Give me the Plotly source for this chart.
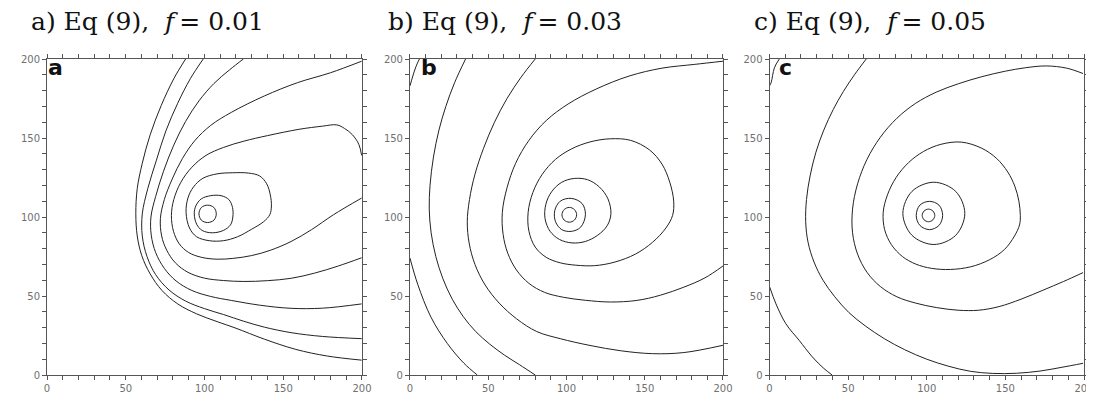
import plotly.graph_objects as go

# ---------------- data: contour paths (x, y) ----------------
# Panel a  (f = 0.01)
a1 = [(107.5,102),(106,106),(102,107.5),(98,106),(96.5,102),(98,98),(102,96.5),(106,98),(107.5,102)]
a2 = [(93.5,102),(94.5,107),(98,111.5),(104,113.5),(110.5,113.5),(115.5,111),(117.8,106),(118,100),(116.5,95),
      (112,91.5),(105,90),(98.5,91.5),(95,95.5),(93.5,102)]
a3 = [(88.3,103),(89.5,112),(93,119),(99,124.5),(108,127.3),(118,128),(128,127.8),(135,126),(139.5,121),
      (141.8,114),(142.5,107),(141.5,101.5),(137.5,97),(130,92.3),(121,87.5),(112,85),(103,85),(95,87.5),
      (90.5,93),(88.3,103)]
a4 = [(199.8,139),(198,146),(194,152),(189,156),(184,158.3),(175,157.5),(160,155.5),(140,151.5),(125,148),
      (112,144),(101,139),(92,131.5),(85,122),(80.5,111),(79,101),(80.3,91),(84,83),(90,77.5),(98,74.5),
      (108,73.3),(118,73.8),(130,75.6),(142,79),(155,84.5),(168,92),(182,101.5),(199.8,112)]
a5 = [(199.8,198.6),(180,191.3),(159,185),(138,176.6),(117,166.2),(104,158),(94,148.5),(86,137),(79.5,124),
      (74.5,111),(72,99),(72.8,88),(76,79),(81.5,71),(89.5,65),(100,61.3),(112,59.8),(125,59.2),(140,59.7),
      (155,61.2),(170,64.5),(185,69),(199.8,74.2)]
a6 = [(124.7,200),(116,193.2),(106,184.5),(96.5,173.5),(88,160.5),(80.5,145.5),(74,129),(69,113),(66,100),
      (66.2,88.5),(69,77.5),(74.5,67.5),(82,59.5),(92,53.5),(104,49.7),(117,47.2),(135,44.2),(155,42.2),
      (175,42.3),(199.8,45)]
a7 = [(99.2,200),(91,187.5),(83,172),(75.5,154.5),(69.5,136),(64,118),(60.5,102),(60.5,88),(63.5,75),
      (69,63.5),(77.5,53.8),(88,46.8),(100,42),(112,38.3),(125,34),(138,30.3),(155,26.8),(175,24.4),(199.8,23)]
a8 = [(88,200),(80.5,187.5),(72.5,170.5),(65.5,152),(60.5,134),(57.3,118),(56.4,102),(57.3,88),(60.2,75.5),
      (65.5,64),(73,53.5),(83,45),(95,38.7),(108,33.8),(120,29.6),(138,22.7),(158,16.2),(178,12),(199.8,9.4)]

# Panel b  (f = 0.03)
b1 = [(106.5,101.4),(105.1,104.7),(101.8,106.1),(98.5,104.7),(97.1,101.4),(98.5,98.1),(101.8,96.7),
      (105.1,98.1),(106.5,101.4)]
b2 = [(112.1,101.4),(110,108.5),(103,111.8),(96,110),(92.5,104),(93,97),(97,92),(103,90.9),(109,93.5),(112.1,101.4)]
b3 = [(128.4,102),(126.5,111.5),(121,119),(113.5,123.6),(105,124.4),(97,122),(90.5,116),(86.8,108),(86.3,99),
      (89.5,91),(95.5,85.8),(103.5,83.6),(112,84.5),(120,88.5),(126,94.5),(128.4,102)]
b4 = [(168.5,110),(166,122),(161,133.5),(153,142.5),(141,148.5),(128,149.5),(115,147.5),(103,143),(93,136.5),
      (84.5,127),(78.5,115.5),(75.5,103),(76,91),(80,81),(87,74.5),(96,71),(106,69.5),(118,69.2),(131,71.5),
      (144,76.5),(155,84),(163.5,93),(167.8,101),(168.5,110)]
b5 = [(200,198.6),(182,196.6),(161,194.2),(140,189.2),(119,181),(101,171.5),(87,161),(76,148.5),(67.5,134),
      (62,118.5),(59,103),(59.5,89),(62.5,77),(68,66.5),(76,58),(86,52.3),(98,49.2),(112,47.3),(128,46.2),
      (145,47.2),(160,50.5),(175,55.6),(188.5,61.5),(200,69)]
b6 = [(80,200),(71,188.5),(62,175),(54,160),(47,143.5),(41.5,127),(38,111),(36.6,97),(37.8,83.5),(41.5,70),
      (48,57),(57,45.5),(68.2,35.5),(81,27.5),(96,23),(115,18.7),(135,15.3),(155,13.5),(175,14.2),(200,18.8)]
b7 = [(35.5,200),(28.5,185),(22.9,170),(18.5,155),(15,138),(12.8,120),(12.3,105),(13.5,90),(16.5,75),(21,61),
      (27,48),(34,37),(42,27.5),(51,19.5),(60.5,12.5),(70,6.5),(80,0)]
b8 = [(0,74),(4.9,57.5),(13.4,36.6),(23.9,19.9),(34.5,7.4),(43,0)]
b9 = [(6,200),(3.9,195.4),(1.8,189.2),(0,183)]

# Panel c  (f = 0.05)
c1 = [(105.1,101),(103.9,103.8),(101.1,105),(98.3,103.8),(97.1,101),(98.3,98.2),(101.1,97),(103.9,98.2),(105.1,101)]
c2 = [(110.1,101),(107.8,107.5),(101.7,109.9),(95.6,107.5),(93.3,101),(95.6,94.7),(101.7,92),(107.8,94.7),(110.1,101)]
c3 = [(124.2,102.3),(118.4,116.2),(104.5,122),(90.6,116.2),(84.8,102.3),(90.6,88.4),(104.5,82.6),(118.4,88.4),
      (124.2,102.3)]
c4 = [(159.5,101),(158.6,110),(156,119.5),(151.5,128.5),(144.5,137),(135,143.5),(122,147.4),(109,146),(98,141.5),
      (88.5,134.5),(80.5,125),(75,114),(72.3,103),(73.2,92),(77.5,82.5),(84.5,75),(93,70.2),(103,67.5),(115,66.8),
      (128,68.5),(140,73),(149.5,79.5),(155.8,88),(159,95),(159.5,101)]
c5 = [(199.4,190.8),(189,194.2),(176,195.6),(163,194.5),(150,192.3),(135,188.8),(120,184.3),(106,179),(93,172),
      (81,162.5),(70.5,150.5),(62,136.5),(56,121),(52.8,105),(52.8,90),(56,76.5),(62,65),(70.5,56),(81,49.5),
      (93,45.5),(106,42.7),(120,41),(133,41),(146,43.3),(160,48),(174,53.7),(187,59.2),(199.4,64.8)]
c6 = [(61.5,200),(54,190),(47,179.5),(40.5,168),(34.5,155),(29.5,141),(25.8,126),(23.5,111),(23,97),(24.5,84),
      (28.3,71.5),(34,60),(41.5,49.5),(50.5,39.5),(61,31),(73,23),(86,16),(100,10),(114,5.5),(128,2.3),(142,1),
      (157,1.1),(172,2.5),(186,4.9),(199.4,7.4)]
c7 = [(0,56),(4.1,45),(10.4,32.4),(18.8,22),(27.2,11.5),(34.5,4.2),(39.8,0)]
c8 = [(6.2,200),(3.1,194.4),(1,185),(0,183)]

panel_contours = [[a1, a2, a3, a4, a5, a6, a7, a8],
                  [b1, b2, b3, b4, b5, b6, b7, b8, b9],
                  [c1, c2, c3, c4, c5, c6, c7, c8]]
titles = ["a) Eq (9),\u00a0 <i>f</i>\u2009= 0.01", "b) Eq (9),\u00a0 <i>f</i>\u2009= 0.03",
          "c) Eq (9),\u00a0 <i>f</i>\u2009= 0.05"]
letters = ["a", "b", "c"]
tick_vals = [0, 50, 100, 150, 200]
tick_text = ["0", "50", "100", "150", "200"]

# ---------------- figure ----------------
W, H = 1094, 394
ML, MR, MT, MB = 39, 8, 51, 24
PW = W - ML - MR
PH = H - MT - MB
domains = [[0, 318 / PW], [(405.5 - ML) / PW, (721.5 - ML) / PW], [(768.5 - ML) / PW, 1.0]]
title_x = [-18 / 318, -24 / 316, -18 / 317.5]
letter_x = [-1 / 318, 9 / 316, 8 / 317.5]

fig = go.Figure()
for i, contours in enumerate(panel_contours):
    xa = "x" if i == 0 else f"x{i+1}"
    ya = "y" if i == 0 else f"y{i+1}"
    for path in contours:
        fig.add_trace(go.Scatter(
            x=[p[0] for p in path], y=[p[1] for p in path], xaxis=xa, yaxis=ya,
            mode="lines", line=dict(color="#222222", width=1, shape="spline", smoothing=1.0),
            showlegend=False, hoverinfo="skip"))

axis_common = dict(range=[0, 200], tickvals=tick_vals, ticktext=tick_text, ticks="outside", ticklen=4,
                   tickwidth=1, tickcolor="#555", showline=True, linecolor="#555", linewidth=1,
                   mirror="ticks", showgrid=False, zeroline=False,
                   tickfont=dict(family="DejaVu Sans", size=10, color="#707070"),
                   minor=dict(dtick=10, tick0=0, ticks="outside", ticklen=4, tickcolor="#555", showgrid=False))

layout = dict(width=W, height=H, margin=dict(l=ML, r=MR, t=MT, b=MB),
              paper_bgcolor="white", plot_bgcolor="white", showlegend=False)
annotations = []
for i in range(3):
    xs = "" if i == 0 else str(i + 1)
    layout[f"xaxis{xs}"] = dict(axis_common, domain=domains[i], anchor=f"y{xs}")
    layout[f"yaxis{xs}"] = dict(axis_common, domain=[0, 1], anchor=f"x{xs}")
    annotations.append(dict(text=titles[i], xref=f"x{xs} domain", yref="paper",
                            x=title_x[i], y=(H - MB - 13) / PH,
                            xanchor="left", yanchor="middle", showarrow=False,
                            font=dict(family="DejaVu Serif", size=25, color="#111")))
    annotations.append(dict(text=f"<b>{letters[i]}</b>", xref=f"x{xs} domain", yref=f"y{xs} domain",
                            x=letter_x[i], y=(H - MB - 60) / PH, xanchor="left", yanchor="middle", showarrow=False,
                            font=dict(family="DejaVu Sans", size=22, color="#111")))
layout["annotations"] = annotations
fig.update_layout(**layout)
fig.write_html("out.html")
